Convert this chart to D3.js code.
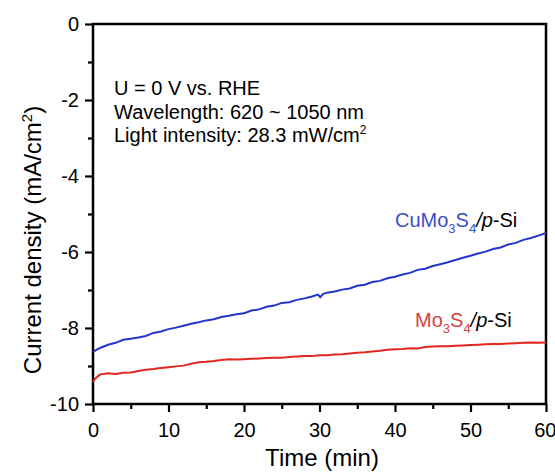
<!DOCTYPE html>
<html><head><meta charset="utf-8">
<script src="https://cdn.jsdelivr.net/npm/d3@7"></script>
<style>
html,body{margin:0;padding:0;background:#fff;}
svg{display:block;font-family:"Liberation Sans",Arial,sans-serif;}
</style></head>
<body><svg id="chart" width="555" height="474"></svg>
<script>
// ---- data ----
const xMajorTicks = [0, 10, 20, 30, 40, 50, 60];
const xMinorTicks = [5, 15, 25, 35, 45, 55];
const yMajorTicks = [0, -2, -4, -6, -8, -10];
const yMinorTicks = [-1, -3, -5, -7, -9];

const blueTime = [0,0.5,1,2,3,4,5,6,7,8,9,10,11,12,13,14,15,16,17,18,19,20,21,22,23,24,25,26,27,28,29,29.8,30.1,30.5,31,32,33,34,35,36,37,38,39,40,41,42,43,44,45,46,47,48,49,50,51,52,53,54,55,56,57,58,59,60];
const blueValues = [-8.63,-8.57,-8.52,-8.44,-8.39,-8.31,-8.28,-8.25,-8.21,-8.13,-8.09,-8.03,-7.99,-7.94,-7.89,-7.85,-7.80,-7.77,-7.71,-7.68,-7.64,-7.61,-7.54,-7.51,-7.44,-7.41,-7.34,-7.32,-7.26,-7.22,-7.17,-7.12,-7.19,-7.10,-7.07,-7.04,-6.99,-6.96,-6.89,-6.86,-6.79,-6.76,-6.69,-6.65,-6.59,-6.55,-6.47,-6.44,-6.37,-6.32,-6.27,-6.21,-6.15,-6.10,-6.04,-5.99,-5.92,-5.88,-5.80,-5.76,-5.68,-5.63,-5.57,-5.50];

const redTime = [0,0.3,0.7,1,2,3,4,5,6,7,8,9,10,11,12,13,14,15,16,17,18,19,20,21,22,23,24,25,26,27,28,29,30,31,32,33,34,35,36,37,38,39,40,41,42,43,44,45,46,47,48,49,50,51,52,53,54,55,56,57,58,59,60];
const redValues = [-9.42,-9.33,-9.26,-9.22,-9.19,-9.21,-9.18,-9.17,-9.13,-9.10,-9.08,-9.05,-9.03,-9.01,-8.99,-8.94,-8.90,-8.89,-8.87,-8.84,-8.82,-8.83,-8.82,-8.81,-8.80,-8.79,-8.78,-8.78,-8.76,-8.75,-8.74,-8.74,-8.72,-8.72,-8.70,-8.69,-8.67,-8.65,-8.64,-8.62,-8.60,-8.57,-8.56,-8.55,-8.53,-8.54,-8.50,-8.49,-8.48,-8.48,-8.47,-8.46,-8.45,-8.44,-8.43,-8.42,-8.42,-8.41,-8.40,-8.39,-8.38,-8.39,-8.38];

const annotationLines = ["U = 0 V vs. RHE", "Wavelength: 620 ~ 1050 nm", "Light intensity: 28.3 mW/cm"];

// ---- layout ----
const W = 555, H = 474;
const m = {left: 93, top: 24, right: 9, bottom: 70};
const svg = d3.select("#chart");
const x = d3.scaleLinear().domain([0, 60]).range([m.left, W - m.right]);
const y = d3.scaleLinear().domain([-10, 0]).range([H - m.bottom, m.top]);
const FS = 20;

// frame
svg.append("rect")
  .attr("x", x(0)).attr("y", y(0))
  .attr("width", x(60) - x(0)).attr("height", y(-10) - y(0))
  .attr("fill", "none").attr("stroke", "#000").attr("stroke-width", 2.5);

// lines
const line = d3.line().x(d => x(d[0])).y(d => y(d[1]));
svg.append("path").datum(redTime.map((t, i) => [t, redValues[i]]))
  .attr("d", line).attr("fill", "none").attr("stroke", "#e3261f").attr("stroke-width", 2);
svg.append("path").datum(blueTime.map((t, i) => [t, blueValues[i]]))
  .attr("d", line).attr("fill", "none").attr("stroke", "#2236cc").attr("stroke-width", 2);

// axes
function styleAxis(g) {
  g.select(".domain").remove();
  g.selectAll(".tick line").attr("stroke", "#000").attr("stroke-width", 2.2);
  g.selectAll(".tick text").attr("fill", "#000").style("font-size", FS + "px")
    .style("font-family", '"Liberation Sans",Arial,sans-serif');
}
const xAx = svg.append("g").attr("transform", `translate(0,${y(-10)})`)
  .call(d3.axisBottom(x).tickValues(xMajorTicks).tickSize(8).tickPadding(11).tickFormat(d3.format("d")))
  .call(styleAxis);
xAx.selectAll(".tick text").filter(d => d === 60).attr("text-anchor", "end").attr("x", 10);
svg.append("g").attr("transform", `translate(0,${y(-10)})`)
  .call(d3.axisBottom(x).tickValues(xMinorTicks).tickSize(5).tickFormat(""))
  .call(styleAxis);
svg.append("g").attr("transform", `translate(${x(0)},0)`)
  .call(d3.axisLeft(y).tickValues(yMajorTicks).tickSize(8).tickPadding(6).tickFormat(d => d3.format("d")(d).replace("−", "-")))
  .call(styleAxis);
svg.append("g").attr("transform", `translate(${x(0)},0)`)
  .call(d3.axisLeft(y).tickValues(yMinorTicks).tickSize(5).tickFormat(""))
  .call(styleAxis);

// axis titles
svg.append("text").attr("x", 322).attr("y", 466)
  .attr("text-anchor", "middle").style("font-size", "24px").text("Time (min)");
const yt = svg.append("text").attr("transform", "translate(41,240) rotate(-90)")
  .attr("text-anchor", "middle").style("font-size", "24px");
yt.append("tspan").text("Current density (mA/cm");
yt.append("tspan").attr("dy", -9).style("font-size", "15px").text("2");
yt.append("tspan").attr("dy", 9).text(")");

// annotation
const ann = svg.append("g").style("font-size", FS + "px");
ann.append("text").attr("x", 114).attr("y", 95).text(annotationLines[0]);
ann.append("text").attr("x", 114).attr("y", 118.5).text(annotationLines[1]);
const a3 = ann.append("text").attr("x", 114).attr("y", 142);
a3.append("tspan").text(annotationLines[2]);
a3.append("tspan").attr("dy", -8).style("font-size", "12px").text("2");

// series labels
function seriesLabel(xp, yp, parts, color) {
  const t = svg.append("text").attr("x", xp).attr("y", yp).style("font-size", FS + "px");
  let cur = 0;
  parts.forEach(p => {
    const sp = t.append("tspan").text(p.s);
    if (p.sub) { sp.attr("dy", 6 - cur).style("font-size", "13px"); cur = 6; }
    else { if (cur !== 0) { sp.attr("dy", -cur); cur = 0; } }
    sp.attr("fill", p.c || color);
    if (p.it) sp.style("font-style", "italic");
  });
}
const blueLabelColor = "#3a4fc9", redLabelColor = "#d9423e";
seriesLabel(395, 227, [{s:"CuMo"},{s:"3",sub:true},{s:"S"},{s:"4",sub:true},{s:"/p",it:true,c:"#000"},{s:"-Si",c:"#000"}], blueLabelColor);
seriesLabel(415, 327, [{s:"Mo"},{s:"3",sub:true},{s:"S"},{s:"4",sub:true},{s:"/p",it:true,c:"#000"},{s:"-Si",c:"#000"}], redLabelColor);
</script>
</body></html>
